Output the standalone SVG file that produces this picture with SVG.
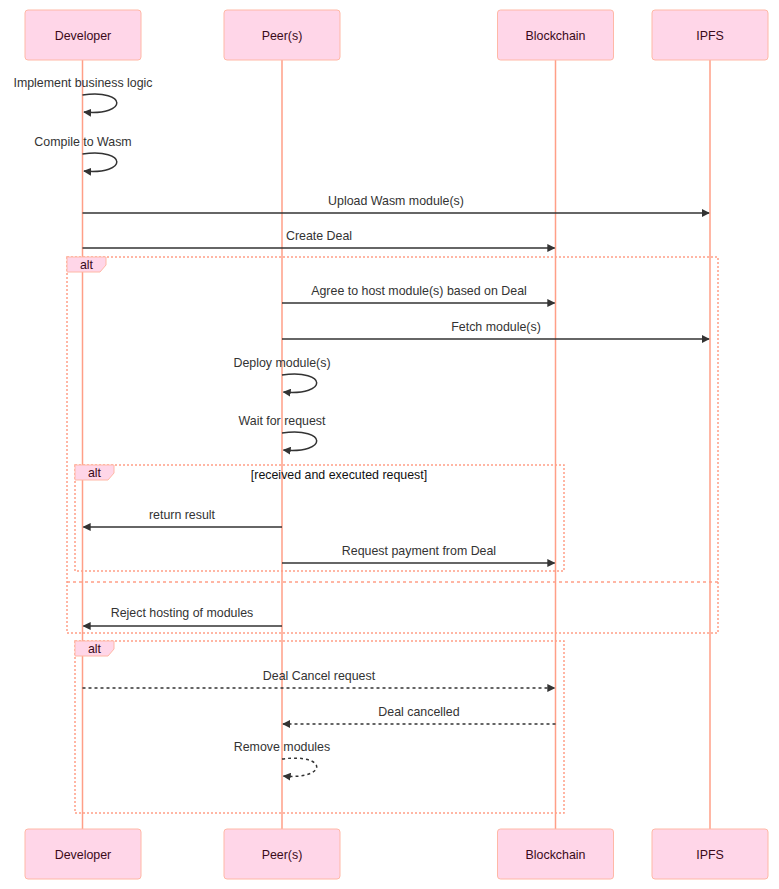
<svg xmlns="http://www.w3.org/2000/svg" width="779" height="889" viewBox="0 0 779 889">
<style>
.actor{fill:#ffd6e8;stroke:#ffb8a6;stroke-width:1}
.atext{font-family:"Liberation Sans",Arial,sans-serif;font-size:12.4px;fill:#3a0a1a;text-anchor:middle;dominant-baseline:central}
.life{stroke:#ff9f87;stroke-width:1.5;fill:none}
.msg{stroke:#333;stroke-width:1.5;fill:none}
.dash{stroke-dasharray:3,3}
.mtext{font-family:"Liberation Sans",Arial,sans-serif;font-size:12.4px;fill:#333;text-anchor:middle}
.loop{fill:none;stroke:#ff9f87;stroke-width:1.5;stroke-dasharray:2,2}
.lbl{fill:#ffd6e8;stroke:#ffb8a6;stroke-width:1}
.ltext{font-family:"Liberation Sans",Arial,sans-serif;font-size:12.4px;fill:#3a0a1a;text-anchor:middle;dominant-baseline:central}
</style>
<defs>
<marker id="arrow" viewBox="0 0 10 10" refX="9" refY="5" markerWidth="8" markerHeight="8" markerUnits="userSpaceOnUse" orient="auto">
<path d="M0,0 L10,5 L0,10 z" fill="#333"/>
</marker>
</defs>
<rect width="779" height="889" fill="#fff"/>
<g id="lifelines">
<line class="life" x1="82.5" y1="60" x2="82.5" y2="829"/>
<line class="life" x1="282" y1="60" x2="282" y2="829"/>
<line class="life" x1="555.5" y1="60" x2="555.5" y2="829"/>
<line class="life" x1="710" y1="60" x2="710" y2="829"/>
</g>
<g id="actor-developer-top"><rect class="actor" x="25" y="10" width="116" height="50" rx="3"/><text class="atext" x="83" y="36">Developer</text></g>
<g id="actor-peers-top"><rect class="actor" x="224" y="10" width="116" height="50" rx="3"/><text class="atext" x="282" y="36">Peer(s)</text></g>
<g id="actor-blockchain-top"><rect class="actor" x="497.5" y="10" width="116" height="50" rx="3"/><text class="atext" x="555.5" y="36">Blockchain</text></g>
<g id="actor-ipfs-top"><rect class="actor" x="652" y="10" width="116" height="50" rx="3"/><text class="atext" x="710" y="36">IPFS</text></g>

<g id="alt-outer">
<rect class="loop" x="67" y="257" width="651" height="376"/>
<line class="loop" x1="67" y1="582" x2="718" y2="582" style="stroke-dasharray:3,3"/>
<polygon class="lbl" points="67,257 106,257 106,265 100,272 67,272"/>
<text class="ltext" x="86.5" y="265">alt</text>
</g>
<g id="alt-inner">
<rect class="loop" x="75" y="465" width="489" height="106"/>
<polygon class="lbl" points="75,465 114,465 114,473 108,480 75,480"/>
<text class="ltext" x="94.5" y="473">alt</text>
<text class="mtext" x="339" y="479" style="fill:#111">[received and executed request]</text>
</g>
<g id="alt-cancel">
<rect class="loop" x="75" y="641" width="489" height="172"/>
<polygon class="lbl" points="75,641 114,641 114,649 108,656 75,656"/>
<text class="ltext" x="94.5" y="649">alt</text>
</g>

<g id="connectors">
<text class="mtext" x="83" y="87">Implement business logic</text>
<path class="msg" d="M82.5,95 C128,89 128,116 84,112" marker-end="url(#arrow)"/>
<text class="mtext" x="83" y="146">Compile to Wasm</text>
<path class="msg" d="M82.5,154 C128,148 128,175 84,171" marker-end="url(#arrow)"/>
<text class="mtext" x="396" y="205">Upload Wasm module(s)</text>
<line class="msg" x1="82.5" y1="213" x2="709" y2="213" marker-end="url(#arrow)"/>
<text class="mtext" x="319" y="240">Create Deal</text>
<line class="msg" x1="82.5" y1="248" x2="554.5" y2="248" marker-end="url(#arrow)"/>
<text class="mtext" x="419" y="295">Agree to host module(s) based on Deal</text>
<line class="msg" x1="282" y1="303" x2="554.5" y2="303" marker-end="url(#arrow)"/>
<text class="mtext" x="496" y="331">Fetch module(s)</text>
<line class="msg" x1="282" y1="339" x2="709" y2="339" marker-end="url(#arrow)"/>
<text class="mtext" x="282" y="367">Deploy module(s)</text>
<path class="msg" d="M282,375 C328,369 328,396 283.5,392" marker-end="url(#arrow)"/>
<text class="mtext" x="282" y="425">Wait for request</text>
<path class="msg" d="M282,433 C328,427 328,454 283.5,450" marker-end="url(#arrow)"/>
<text class="mtext" x="182" y="519">return result</text>
<line class="msg" x1="282" y1="527" x2="83.5" y2="527" marker-end="url(#arrow)"/>
<text class="mtext" x="419" y="555">Request payment from Deal</text>
<line class="msg" x1="282" y1="563" x2="554.5" y2="563" marker-end="url(#arrow)"/>
<text class="mtext" x="182" y="617">Reject hosting of modules</text>
<line class="msg" x1="282" y1="626" x2="83.5" y2="626" marker-end="url(#arrow)"/>
<text class="mtext" x="319" y="680">Deal Cancel request</text>
<line class="msg dash" x1="82.5" y1="688" x2="554.5" y2="688" marker-end="url(#arrow)"/>
<text class="mtext" x="419" y="716">Deal cancelled</text>
<line class="msg dash" x1="555.5" y1="724" x2="283" y2="724" marker-end="url(#arrow)"/>
<text class="mtext" x="282" y="751">Remove modules</text>
<path class="msg dash" d="M282,759 C328,753 328,780 283.5,776" marker-end="url(#arrow)"/>
</g>

<g id="actor-developer-bottom"><rect class="actor" x="25" y="829" width="116" height="50" rx="3"/><text class="atext" x="83" y="855">Developer</text></g>
<g id="actor-peers-bottom"><rect class="actor" x="224" y="829" width="116" height="50" rx="3"/><text class="atext" x="282" y="855">Peer(s)</text></g>
<g id="actor-blockchain-bottom"><rect class="actor" x="497.5" y="829" width="116" height="50" rx="3"/><text class="atext" x="555.5" y="855">Blockchain</text></g>
<g id="actor-ipfs-bottom"><rect class="actor" x="652" y="829" width="116" height="50" rx="3"/><text class="atext" x="710" y="855">IPFS</text></g>
</svg>
